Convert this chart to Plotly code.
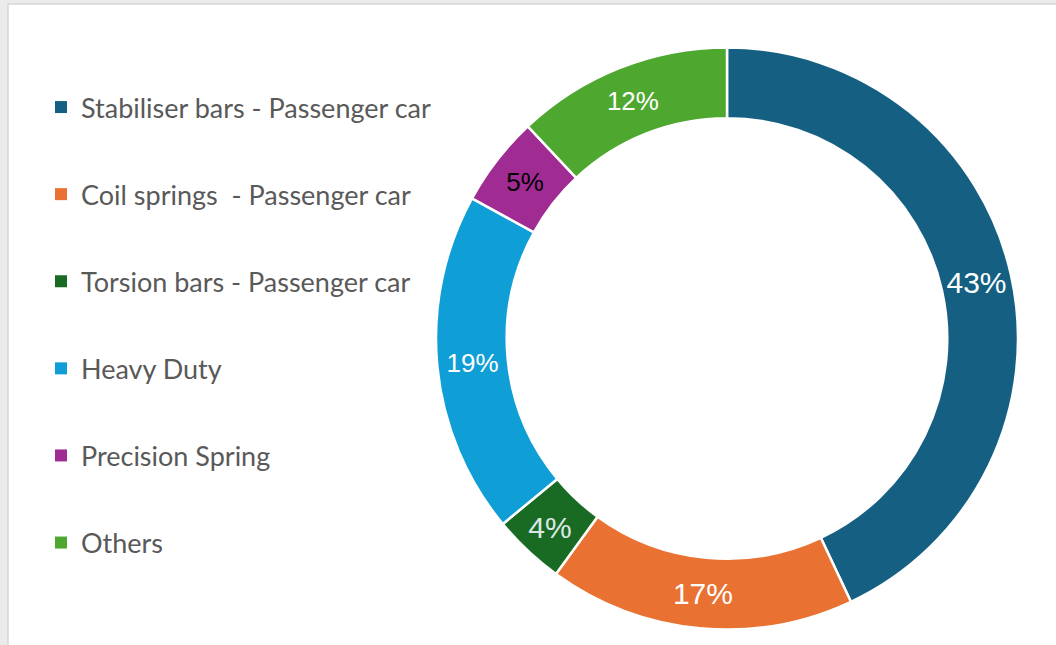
import plotly.graph_objects as go

labels = ["Stabiliser bars - Passenger car", "Coil springs  - Passenger car",
          "Torsion bars - Passenger car", "Heavy Duty", "Precision Spring", "Others"]
values = [43, 17, 4, 19, 5, 12]
colors = ["#156082", "#E97132", "#196B24", "#0F9ED5", "#A02B93", "#4EA72E"]
text_sizes = [30, 30, 30, 26, 26, 26]
text_colors = ["white", "white", "#dde8e6", "white", "black", "white"]

W, H = 1056, 645

fig = go.Figure()
fig.add_trace(go.Pie(labels=labels, values=values, hole=0.757, sort=False, direction="clockwise",
                     rotation=0, marker=dict(colors=colors, line=dict(color="white", width=2.5)),
                     textinfo="percent", textposition="inside", insidetextorientation="horizontal",
                     textfont=dict(family="Liberation Sans", size=text_sizes, color=text_colors),
                     domain=dict(x=[436 / W, 1018 / W], y=[14 / H, 599 / H]),
                     showlegend=False, hoverinfo="label+percent"))

# legend entries as separate groups so the spacing can be opened up
for lab, col in zip(labels, colors):
    fig.add_trace(go.Scatter(x=[None], y=[None], mode="markers", name=lab, legendgroup=lab,
                             marker=dict(symbol="square", size=12, color=col)))

fig.update_layout(width=W, height=H, margin=dict(l=0, r=0, t=0, b=0),
                  paper_bgcolor="#ebebeb", plot_bgcolor="rgba(0,0,0,0)",
                  xaxis=dict(visible=False), yaxis=dict(visible=False),
                  legend=dict(x=41 / W, y=1 - 83 / H, xanchor="left", yanchor="top",
                              bgcolor="rgba(0,0,0,0)", tracegroupgap=49, traceorder="grouped",
                              font=dict(family="Lato", size=27, color="#595959")),
                  shapes=[dict(type="rect", xref="paper", yref="paper", x0=8 / W, x1=1.02,
                               y0=-0.05, y1=1 - 4 / H, fillcolor="white",
                               line=dict(color="#d6d6d6", width=1.5), layer="below")])

fig.write_html("out.html", config={"displayModeBar": False},
               post_script="document.body.style.margin='0';")
